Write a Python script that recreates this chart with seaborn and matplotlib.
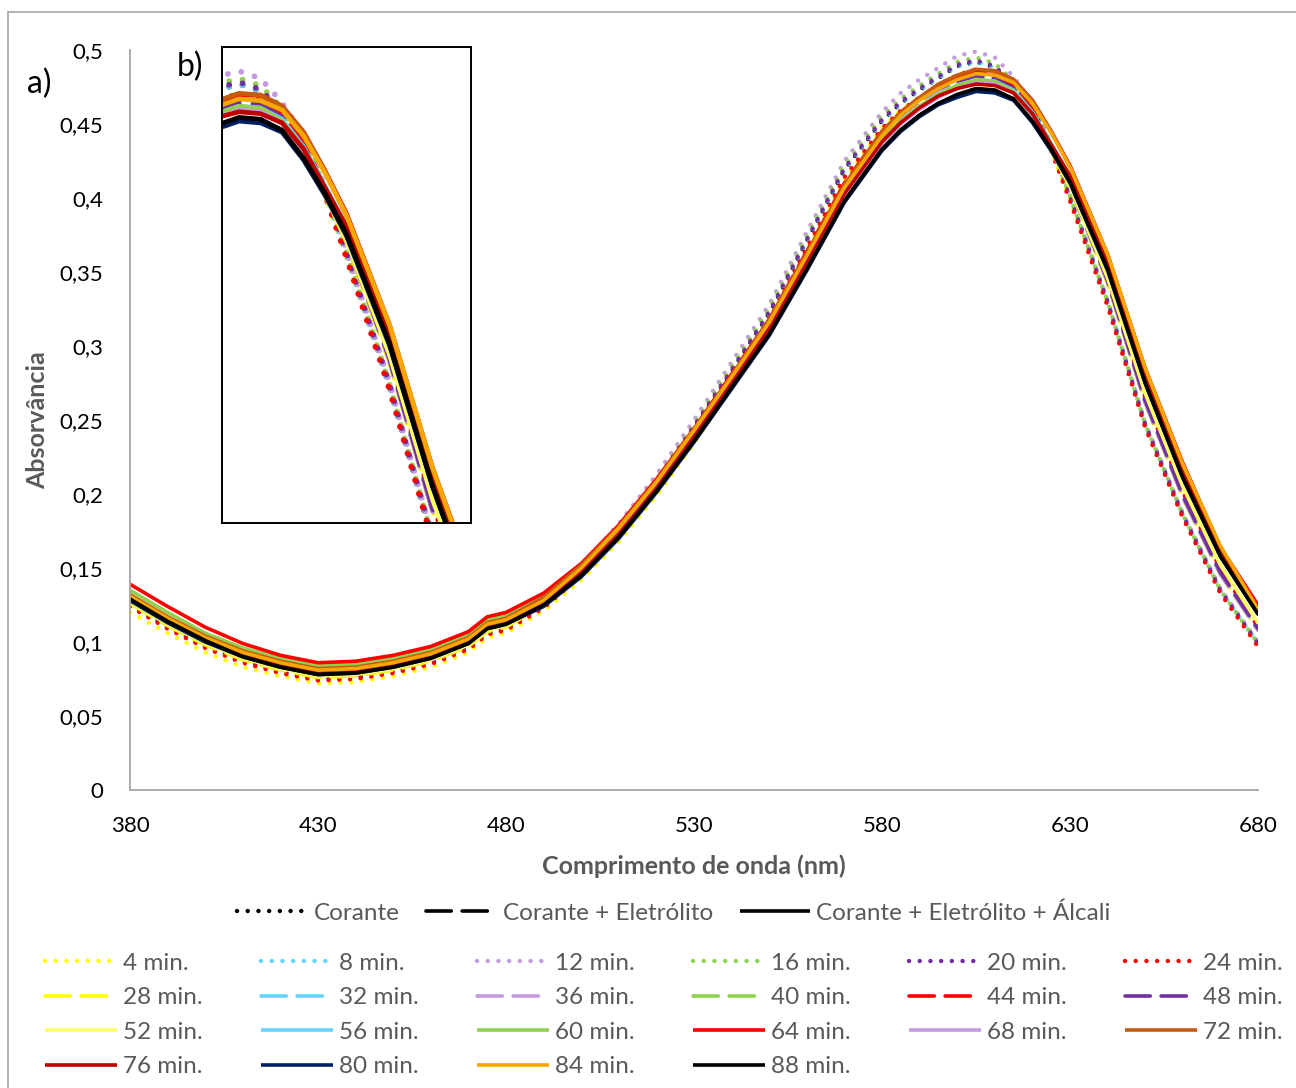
import numpy as np
import pandas as pd
import matplotlib
matplotlib.use("Agg")
import matplotlib.pyplot as plt
import seaborn as sns
from matplotlib.lines import Line2D
from matplotlib.ticker import FuncFormatter

sns.set_theme(style="white")
plt.rcParams['font.family'] = ['Lato', 'DejaVu Sans']

# ---------------- data ----------------
wavelength = [380, 390, 400, 410, 420, 430, 440, 450, 460, 470, 475, 480, 490, 500, 510, 520, 530, 540, 550,
              560, 570, 580, 585, 590, 595, 600, 605, 610, 615, 620, 625, 630, 640, 650, 660, 670, 680]

corante = [.125, .110, .097, .087, .080, .075, .076, .080, .086, .096, .106, .109, .124, .147, .175, .208, .245, .283, .322,
           .371, .419, .452, .464, .473, .481, .489, .492, .488, .476, .460, .434, .400, .329, .246, .185, .134, .098]
corante_eletrolito = [.127, .112, .099, .089, .082, .077, .078, .082, .088, .098, .108, .111, .126, .148, .175, .206, .241, .278, .315,
                      .361, .407, .442, .455, .465, .473, .478, .481, .480, .473, .457, .433, .408, .343, .262, .198, .146, .108]
corante_eletrolito_alcali = [.128, .113, .100, .090, .083, .078, .079, .083, .089, .099, .109, .112, .125, .145, .171, .202, .236, .272, .308,
                             .352, .398, .433, .446, .456, .464, .469, .473, .472, .467, .452, .432, .411, .352, .275, .211, .158, .119]
min4 = [.120, .106, .093, .083, .077, .072, .073, .077, .083, .093, .103, .106, .121, .142, .168, .199, .234, .272, .312,
        .364, .412, .447, .459, .468, .476, .483, .487, .484, .472, .457, .432, .399, .329, .247, .186, .135, .099]
min8 = [.126, .111, .098, .088, .081, .076, .077, .081, .087, .097, .107, .110, .125, .147, .175, .208, .245, .283, .322,
        .371, .419, .452, .464, .473, .481, .489, .492, .488, .476, .460, .434, .400, .329, .247, .186, .135, .099]
min12 = [.127, .112, .099, .089, .082, .077, .078, .082, .088, .098, .108, .111, .127, .151, .180, .213, .250, .289, .328,
         .377, .425, .458, .471, .480, .488, .496, .499, .495, .482, .464, .437, .402, .331, .248, .187, .136, .100]
min16 = [.127, .112, .099, .089, .082, .077, .078, .082, .088, .098, .108, .111, .126, .149, .177, .210, .247, .286, .325,
         .374, .422, .455, .467, .476, .484, .492, .495, .491, .479, .462, .436, .401, .330, .247, .186, .135, .099]
min20 = [.126, .111, .098, .088, .081, .076, .077, .081, .087, .097, .107, .110, .125, .148, .176, .209, .246, .284, .323,
         .372, .420, .453, .465, .474, .482, .490, .493, .489, .477, .461, .435, .401, .330, .247, .186, .135, .099]
min24 = [.124, .109, .096, .086, .079, .074, .075, .079, .085, .095, .105, .108, .123, .145, .173, .206, .242, .280, .318,
         .366, .414, .447, .459, .468, .476, .483, .487, .483, .472, .457, .432, .398, .327, .245, .184, .133, .097]
min28 = [.126, .111, .098, .088, .081, .076, .077, .081, .087, .097, .107, .110, .125, .147, .174, .205, .240, .277, .314,
         .360, .406, .441, .454, .464, .472, .477, .480, .479, .472, .456, .432, .407, .342, .262, .198, .146, .108]
min32 = [.128, .113, .100, .090, .083, .078, .079, .083, .089, .099, .109, .112, .127, .148, .175, .206, .241, .278, .315,
         .361, .407, .442, .455, .465, .473, .478, .482, .481, .474, .458, .434, .409, .344, .263, .199, .147, .109]
min36 = [.127, .112, .099, .089, .082, .077, .078, .082, .088, .098, .108, .111, .126, .148, .175, .206, .241, .278, .315,
         .361, .407, .442, .455, .465, .473, .478, .481, .480, .473, .457, .433, .408, .343, .262, .198, .146, .108]
min40 = [.131, .116, .103, .093, .086, .081, .082, .086, .092, .102, .112, .115, .129, .150, .177, .208, .243, .280, .317,
         .363, .409, .444, .457, .467, .475, .480, .483, .482, .475, .459, .435, .410, .345, .264, .200, .148, .110]
min44 = [.130, .115, .102, .092, .085, .080, .081, .085, .091, .101, .111, .114, .128, .151, .178, .209, .244, .281, .318,
         .364, .410, .445, .458, .468, .476, .481, .484, .483, .476, .460, .436, .411, .346, .265, .201, .149, .110]
min48 = [.128, .113, .100, .090, .083, .078, .079, .083, .089, .099, .109, .112, .127, .149, .176, .207, .242, .279, .316,
         .362, .408, .443, .456, .466, .474, .479, .482, .481, .474, .458, .434, .409, .344, .263, .199, .147, .109]
min52 = [.127, .112, .099, .089, .082, .077, .078, .082, .088, .098, .108, .111, .125, .146, .173, .204, .239, .275, .311,
         .356, .403, .438, .452, .462, .470, .476, .480, .478, .471, .455, .432, .408, .346, .268, .205, .152, .113]
min56 = [.130, .115, .102, .092, .085, .080, .081, .085, .091, .101, .111, .114, .128, .149, .175, .206, .240, .276, .312,
         .357, .403, .438, .452, .462, .470, .476, .480, .479, .473, .458, .437, .415, .356, .279, .215, .162, .122]
min60 = [.135, .120, .106, .096, .089, .084, .085, .089, .095, .105, .115, .118, .131, .151, .176, .207, .241, .277, .313,
         .358, .404, .439, .452, .462, .470, .476, .480, .479, .472, .457, .436, .414, .354, .277, .213, .160, .121]
min64 = [.139, .124, .110, .099, .091, .086, .087, .091, .097, .107, .117, .120, .133, .153, .179, .210, .244, .280, .317,
         .362, .408, .444, .457, .467, .476, .482, .486, .486, .480, .466, .445, .422, .362, .285, .221, .164, .125]
min68 = [.129, .114, .101, .091, .084, .079, .080, .084, .090, .100, .110, .113, .127, .148, .174, .205, .239, .275, .311,
         .356, .402, .437, .450, .460, .468, .474, .478, .477, .471, .456, .435, .413, .354, .277, .213, .160, .120]
min72 = [.132, .117, .104, .094, .087, .082, .083, .087, .093, .103, .113, .116, .130, .152, .178, .209, .244, .280, .318,
         .363, .409, .445, .458, .468, .477, .483, .487, .486, .480, .466, .445, .421, .361, .284, .219, .164, .122]
min76 = [.129, .114, .101, .091, .084, .079, .080, .084, .090, .100, .110, .113, .126, .147, .173, .204, .239, .275, .312,
         .357, .403, .438, .451, .461, .469, .474, .477, .476, .471, .457, .436, .415, .355, .278, .214, .160, .121]
min80 = [.128, .113, .100, .090, .083, .078, .079, .083, .089, .099, .109, .112, .124, .144, .170, .201, .235, .271, .307,
         .351, .397, .432, .445, .455, .463, .468, .472, .471, .466, .451, .432, .410, .351, .275, .211, .158, .119]
min84 = [.131, .116, .103, .093, .086, .081, .082, .086, .092, .102, .112, .115, .128, .150, .177, .208, .243, .279, .316,
         .361, .407, .442, .456, .466, .474, .480, .484, .483, .478, .464, .444, .421, .362, .285, .220, .165, .122]
min88 = [.129, .114, .101, .090, .083, .078, .079, .083, .089, .099, .109, .112, .125, .145, .171, .202, .236, .272, .308,
         .352, .398, .433, .446, .456, .464, .470, .474, .473, .467, .452, .433, .411, .352, .275, .211, .158, .119]

main_labels = ["Corante", "Corante + Eletrólito", "Corante + Eletrólito + Álcali"]
time_labels = ["4 min.", "8 min.", "12 min.", "16 min.", "20 min.", "24 min.",
               "28 min.", "32 min.", "36 min.", "40 min.", "44 min.", "48 min.",
               "52 min.", "56 min.", "60 min.", "64 min.", "68 min.", "72 min.",
               "76 min.", "80 min.", "84 min.", "88 min."]
x_ticks = [380, 430, 480, 530, 580, 630, 680]
y_ticks = [0, 0.05, 0.1, 0.15, 0.2, 0.25, 0.3, 0.35, 0.4, 0.45, 0.5]

# ---------------- styling ----------------
YEL, LBL, LAV, GRN, PUR, RED = "#FFFF00", "#66D3FA", "#C39BE0", "#92D050", "#7030A0", "#FF0000"
series = [
    (main_labels[0], corante, "#000000", "dot"),
    (main_labels[1], corante_eletrolito, "#000000", "dash"),
    (main_labels[2], corante_eletrolito_alcali, "#000000", "solid"),
    (time_labels[0], min4, YEL, "dot"),
    (time_labels[1], min8, LBL, "dot"),
    (time_labels[2], min12, LAV, "dot"),
    (time_labels[3], min16, GRN, "dot"),
    (time_labels[4], min20, PUR, "dot"),
    (time_labels[5], min24, RED, "dot"),
    (time_labels[6], min28, YEL, "dash"),
    (time_labels[7], min32, LBL, "dash"),
    (time_labels[8], min36, LAV, "dash"),
    (time_labels[9], min40, GRN, "dash"),
    (time_labels[10], min44, RED, "dash"),
    (time_labels[11], min48, PUR, "dash"),
    (time_labels[12], min52, "#FFFF66", "solid"),
    (time_labels[13], min56, LBL, "solid"),
    (time_labels[14], min60, GRN, "solid"),
    (time_labels[15], min64, RED, "solid"),
    (time_labels[16], min68, LAV, "solid"),
    (time_labels[17], min72, "#C55A11", "solid"),
    (time_labels[18], min76, "#C00000", "solid"),
    (time_labels[19], min80, "#002060", "solid"),
    (time_labels[20], min84, "#F5A800", "solid"),
    (time_labels[21], min88, "#000000", "solid"),
]
LS = {"dot": (0, (0.01, 2.4)), "dash": (0, (7, 3)), "solid": "-"}
LWS = {"dot": 3.2, "dash": 2.6, "solid": 2.6}

W, H = 1296, 1088
fig = plt.figure(figsize=(W / 100, H / 100), dpi=100)
fig.patch.set_facecolor("white")

ax = fig.add_axes([130 / W, 1 - 790 / H, 1128 / W, 740 / H])
for lab, vals, col, sty in series:
    df = pd.DataFrame({"wl": wavelength, "abs": vals})
    sns.lineplot(data=df, x="wl", y="abs", ax=ax, color=col, lw=LWS[sty], linestyle=LS[sty],
                 dash_capstyle="round", solid_capstyle="round", solid_joinstyle="round",
                 sort=False, errorbar=None, legend=False)

ax.set_xlim(380, 680)
ax.set_ylim(0, 0.5)
ax.set_xticks(x_ticks)
ax.set_yticks(y_ticks)
ax.yaxis.set_major_formatter(FuncFormatter(lambda v, p: ("%g" % round(v, 2)).replace(".", ",")))
ax.tick_params(axis="both", length=0, labelsize=16, colors="#000000")
ax.tick_params(axis="y", pad=19)
ax.tick_params(axis="x", pad=19)
for s in ["top", "right"]:
    ax.spines[s].set_visible(False)
for s in ["left", "bottom"]:
    ax.spines[s].set_color("#A6A6A6")
    ax.spines[s].set_linewidth(1.3)
ax.grid(False)
ax.set_xlabel("Comprimento de onda (nm)", fontsize=18, fontweight="bold", color="#595959", labelpad=13)
ax.set_ylabel("Absorvância", fontsize=18, fontweight="bold", color="#595959", labelpad=8)

# ---------------- inset b) ----------------
axi = fig.add_axes([222 / W, 1 - 523 / H, 249 / W, 476 / H])
for lab, vals, col, sty in series:
    df = pd.DataFrame({"wl": wavelength, "abs": vals})
    sns.lineplot(data=df, x="wl", y="abs", ax=axi, color=col, lw=LWS[sty] * 1.3, linestyle=LS[sty],
                 dash_capstyle="round", solid_capstyle="round", solid_joinstyle="round",
                 sort=False, errorbar=None, legend=False)
axi.set_xlim(601, 659)
axi.set_ylim(0.255, 0.512)
axi.set_xticks([])
axi.set_yticks([])
axi.set_xlabel("")
axi.set_ylabel("")
for s in axi.spines.values():
    s.set_visible(True)
    s.set_color("#000000")
    s.set_linewidth(1.4)

fig.text(27 / W, 1 - 84 / H, "a)", fontsize=23, va="center", ha="left", color="#000000")
fig.text(177 / W, 1 - 67 / H, "b)", fontsize=23, va="center", ha="left", color="#000000")

# ---------------- outer chart border ----------------
fig.add_artist(Line2D([8 / W, 8 / W], [0, 1 - 12 / H], color="#A6A6A6", lw=1.2))
fig.add_artist(Line2D([8 / W, 1], [1 - 12 / H, 1 - 12 / H], color="#A6A6A6", lw=1.2))

# ---------------- legends ----------------
def handle(col, sty):
    return Line2D([0], [0], color=col, lw=LWS[sty], linestyle=LS[sty], dash_capstyle="round",
                  solid_capstyle="butt")

h_main = [handle(c, s) for (l, v, c, s) in series[:3]]
leg1 = fig.legend(h_main, main_labels, loc="center", bbox_to_anchor=(674 / W, 1 - 913 / H), ncol=3,
                  frameon=False, fontsize=17.5, handlelength=2.9, handletextpad=0.25, columnspacing=1.1,
                  labelcolor="#595959", borderpad=0)

rows, ncols = 4, 6
tseries = series[3:]
order = []
for c in range(ncols):
    for r in range(rows):
        idx = r * ncols + c
        if idx < len(tseries):
            order.append(idx)
h_t = [handle(tseries[i][2], tseries[i][3]) for i in order]
l_t = [tseries[i][0] for i in order]
leg2 = fig.legend(h_t, l_t, loc="center", bbox_to_anchor=(664 / W, 1 - 1015 / H), ncol=6,
                  frameon=False, fontsize=17.5, handlelength=2.96, handletextpad=0.25, columnspacing=2.39,
                  labelspacing=0.56, labelcolor="#595959", borderpad=0)

fig.savefig("out.png", dpi=100, facecolor="white")
